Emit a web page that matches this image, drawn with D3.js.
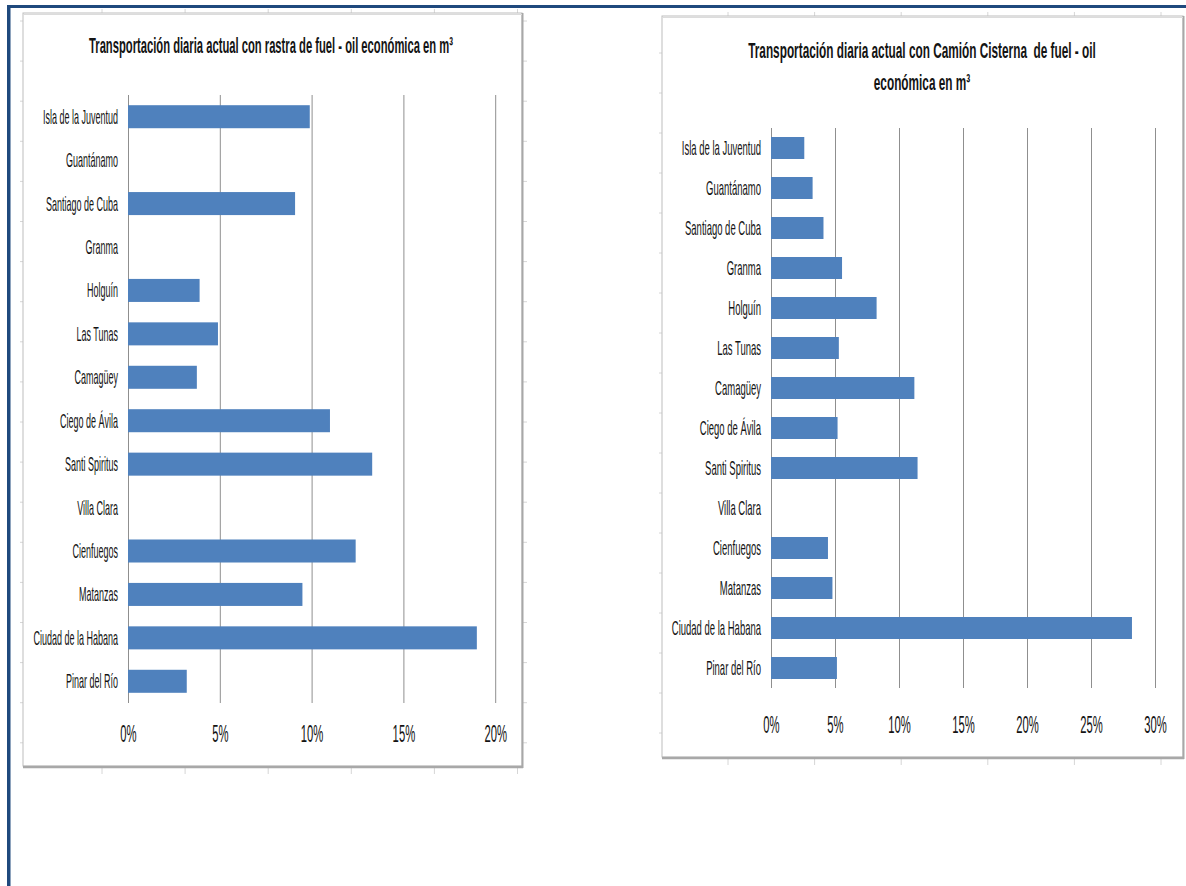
<!DOCTYPE html>
<html><head><meta charset="utf-8">
<script src="https://cdn.jsdelivr.net/npm/d3@7"></script>
<style>
body{margin:0;background:#fff;}
svg{display:block;}
text{font-family:"Liberation Sans",Arial,sans-serif;fill:#141414;white-space:pre;}
</style></head><body>
<svg id="c" width="1186" height="886"></svg>
<script>
// ---------- DATA ----------
const categories = ["Isla de la Juventud","Guantánamo","Santiago de Cuba","Granma","Holguín","Las Tunas","Camagüey","Ciego de Ávila","Santi Spiritus","Villa Clara","Cienfuegos","Matanzas","Ciudad de la Habana","Pinar del Río"];
const rastraValues   = [9.9, 0, 9.1, 0, 3.9, 4.9, 3.75, 11.0, 13.3, 0, 12.4, 9.5, 19.0, 3.2];
const cisternaValues = [2.6, 3.25, 4.1, 5.55, 8.25, 5.3, 11.2, 5.2, 11.45, 0, 4.45, 4.8, 28.2, 5.15];
const rastraTicks   = [0, 5, 10, 15, 20];
const cisternaTicks = [0, 5, 10, 15, 20, 25, 30];
const rastraTitle   = ["Transportación diaria actual con rastra de fuel - oil económica en m³"];
const cisternaTitle = ["Transportación diaria actual con Camión Cisterna  de fuel - oil", "económica en m³"];

// ---------- LAYOUT / STYLE ----------
const svg = d3.select("#c");
const BLUE = "#4F81BD", GRID = "#8f8f8f", NAVY = "#1F497D", CELL = "#d6d6d6";

// slide frame
svg.append("rect").attr("x", 7).attr("y", 5).attr("width", 1179).attr("height", 3).attr("fill", NAVY);
svg.append("rect").attr("x", 7).attr("y", 5).attr("width", 3.5).attr("height", 881).attr("fill", NAVY);

const charts = [
  { values: rastraValues, ticks: rastraTicks, title: rastraTitle,
    box: {x: 23, y: 13, w: 499, h: 753},
    plot: {x0: 128, x1: 495.2, y0: 95, y1: 703}, pad: 0.47,
    labelX: 118, tickBase: 742, titleBase: [53], titleX: 271,
    kLabel: 0.45, kTick: 0.49, kTitle: 0.51,
    cellCols: {start: 102, step: 83.1, n: 6}, cellRows: {start: 21, step: 40.1, n: 19}, rightTicks: true },
  { values: cisternaValues, ticks: cisternaTicks, title: cisternaTitle,
    box: {x: 662, y: 16, w: 521, h: 741},
    plot: {x0: 771, x1: 1155, y0: 128, y1: 688}, pad: 0.45,
    labelX: 761, tickBase: 733, titleBase: [58, 90], titleX: 922,
    kLabel: 0.475, kTick: 0.49, kTitle: 0.537,
    cellCols: {start: 728, step: 86.6, n: 6}, cellRows: {start: 53, step: 40, n: 18}, rightTicks: false }
];

function sText(g, x, y, str, size, weight, anchor, k) {
  return g.append("text")
    .attr("transform", `translate(${x},${y}) scale(${k},1)`)
    .attr("text-anchor", anchor)
    .style("font-size", size + "px")
    .style("font-weight", weight)
    .text(str);
}

charts.forEach(c => {
  const g = svg.append("g");
  const b = c.box, p = c.plot;

  // faint spreadsheet cell marks around the chart object
  d3.range(c.cellCols.n).forEach(i => {
    const cx = c.cellCols.start + i * c.cellCols.step;
    g.append("line").attr("x1", cx).attr("x2", cx).attr("y1", b.y + b.h + 2).attr("y2", b.y + b.h + 8).attr("stroke", CELL);
    g.append("line").attr("x1", cx).attr("x2", cx).attr("y1", b.y - 4).attr("y2", b.y).attr("stroke", CELL);
  });
  d3.range(c.cellRows.n).forEach(i => {
    const cy = c.cellRows.start + i * c.cellRows.step;
    if (cy > b.y + 4 && cy < b.y + b.h - 4) {
      g.append("line").attr("x1", b.x - 3).attr("x2", b.x).attr("y1", cy).attr("y2", cy).attr("stroke", CELL);
      if (c.rightTicks) g.append("line").attr("x1", b.x + b.w + 1).attr("x2", b.x + b.w + 5).attr("y1", cy).attr("y2", cy).attr("stroke", CELL);
    }
  });

  // chart box with shadow
  g.append("rect").attr("x", b.x).attr("y", b.y).attr("width", b.w).attr("height", b.h)
    .attr("fill", "#fff").attr("stroke", "#bdbdbd").attr("stroke-width", 1);
  g.append("line").attr("x1", b.x).attr("x2", b.x + b.w + 1).attr("y1", b.y + b.h + 1).attr("y2", b.y + b.h + 1)
    .attr("stroke", "#a8a8a8").attr("stroke-width", 2.5);
  g.append("line").attr("x1", b.x + b.w + 0.5).attr("x2", b.x + b.w + 0.5).attr("y1", b.y).attr("y2", b.y + b.h + 2)
    .attr("stroke", "#a8a8a8").attr("stroke-width", 2);
  g.append("line").attr("x1", b.x).attr("x2", b.x + b.w).attr("y1", b.y + 1.5).attr("y2", b.y + 1.5)
    .attr("stroke", "#dcdcdc").attr("stroke-width", 1);

  // scales
  const x = d3.scaleLinear().domain([0, d3.max(c.ticks)]).range([p.x0, p.x1]);
  const y = d3.scaleBand().domain(categories).range([p.y0, p.y1])
    .paddingInner(c.pad).paddingOuter(c.pad / 2);

  // gridlines + x tick labels
  const xa = g.append("g").attr("transform", `translate(0,${p.y0})`)
    .call(d3.axisBottom(x).tickValues(c.ticks).tickSize(p.y1 - p.y0).tickFormat(d => d + "%"));
  xa.select(".domain").remove();
  xa.selectAll(".tick line").attr("stroke", GRID).attr("stroke-width", 1);
  xa.selectAll(".tick text")
    .attr("y", null).attr("dy", null)
    .attr("transform", `translate(0,${c.tickBase - p.y0}) scale(${c.kTick},1)`)
    .attr("fill", "#141414")
    .style("font-size", "23px");

  // bars
  g.selectAll("rect.bar").data(c.values).join("rect").attr("class", "bar")
    .attr("x", x(0)).attr("y", (d, i) => y(categories[i]))
    .attr("width", d => x(d) - x(0)).attr("height", y.bandwidth())
    .attr("fill", BLUE);

  // category labels
  const ya = g.append("g").attr("transform", `translate(${p.x0},0)`)
    .call(d3.axisLeft(y).tickSize(0));
  ya.select(".domain").remove();
  ya.selectAll(".tick text")
    .attr("x", null).attr("dy", "0.35em")
    .attr("transform", `translate(${c.labelX - p.x0},0) scale(${c.kLabel},1)`)
    .attr("fill", "#141414")
    .style("font-size", "20px");

  // title
  c.title.forEach((t, i) => sText(g, c.titleX, c.titleBase[i], t, 22, "bold", "middle", c.kTitle));
});
</script>
</body></html>
